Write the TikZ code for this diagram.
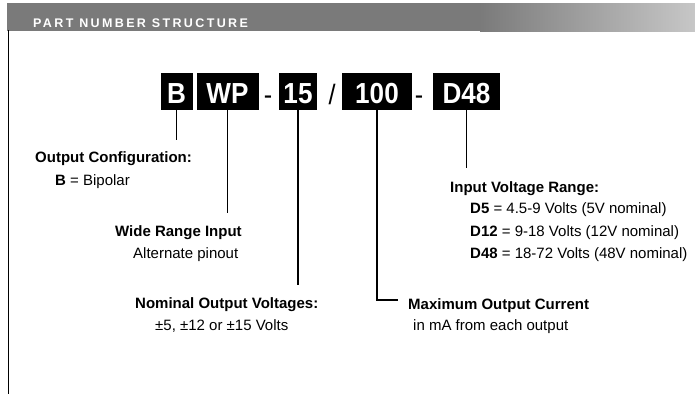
\documentclass[tikz,border=0pt]{standalone}
\usepackage{fontspec}
\setmainfont{Liberation Sans}
\newfontfamily\boxfont[FakeStretch=0.9]{Liberation Sans}
\usetikzlibrary{positioning}

\begin{document}
\begin{tikzpicture}[x=1pt,y=-1pt,
  partbox/.style={fill=black,text=white,inner sep=0pt,minimum height=37pt,
    text height=25pt,text depth=0pt,font=\boxfont\fontsize{29}{30}\selectfont\bfseries},
  joiner/.style={anchor=base,inner sep=0pt,font=\boxfont\fontsize{28}{30}\selectfont},
  headtxt/.style={anchor=base west,inner sep=0pt,font=\fontsize{15}{18}\selectfont\bfseries},
  subtxt/.style={anchor=base west,inner sep=0pt,font=\fontsize{15}{18}\selectfont},
  lead/.style={line width=1.3pt}]
\useasboundingbox (0,0) rectangle (695,394);

% title band
\fill[black!52] (7,3) rectangle (481,31);
\shade[left color=black!52,right color=black!22] (480,3) rectangle (695,31);
\node[anchor=base west,inner sep=0pt,text=white,
  font=\fontsize{12.5}{14}\selectfont\bfseries\addfontfeature{LetterSpace=19}]
  (band) at (33,27.3) {PART NUMBER STRUCTURE};
\coordinate (railtop) at (8.5,30);
\coordinate (railbot) at (8.5,394);
\draw[lead] (railtop) -- (railbot);

% part number
\node[partbox,minimum width=32pt] (cfg) at (176.5,91) {B};
\node[partbox,minimum width=62pt] (wp) at (227.5,91) {WP};
\node[joiner] (dash1) at (268,104) {-};
\node[partbox,minimum width=38pt] (vout) at (298,91) {15};
\node[joiner] (slash) at (332,104) {/};
\node[partbox,minimum width=70pt] (iout) at (377,91) {100};
\node[joiner] (dash2) at (419,104) {-};
\node[partbox,minimum width=67pt] (vin) at (466.5,91) {D48};

% descriptions
\node[headtxt] (cfgtxt) at (35,162) {Output Configuration:};
\node[subtxt] (cfgsub) at (55,185) {\textbf{B} = Bipolar};
\node[headtxt] (wptxt) at (115,236) {Wide Range Input};
\node[subtxt] (wpsub) at (133,258) {Alternate pinout};
\node[headtxt] (vouttxt) at (135,308) {Nominal Output Voltages:};
\node[subtxt] (voutsub) at (155,330) {±5, ±12 or ±15 Volts};
\node[headtxt] (iouttxt) at (408,309) {Maximum Output Current};
\node[subtxt] (ioutsub) at (413,330) {in mA from each output};
\node[headtxt] (vintxt) at (450,192) {Input Voltage Range:};
\node[subtxt] (vin1) at (470,213) {\textbf{D5} = 4.5-9 Volts (5V nominal)};
\node[subtxt] (vin2) at (470,236) {\textbf{D12} = 9-18 Volts (12V nominal)};
\node[subtxt] (vin3) at (470,258) {\textbf{D48} = 18-72 Volts (48V nominal)};

% leaders
\coordinate (cfgend) at (176.5,140);
\coordinate (wpend) at (227.5,213);
\coordinate (voutend) at (298,285);
\coordinate (ioutend) at (398,300);
\coordinate (vinend) at (466.5,168);

\draw[lead] (cfg) -- (cfgend);
\draw[lead] (wp) -- (wpend);
\draw[lead] (vout) -- (voutend);
\draw[lead] (iout) |- (ioutend);
\draw[lead] (vin) -- (vinend);
\end{tikzpicture}
\end{document}
